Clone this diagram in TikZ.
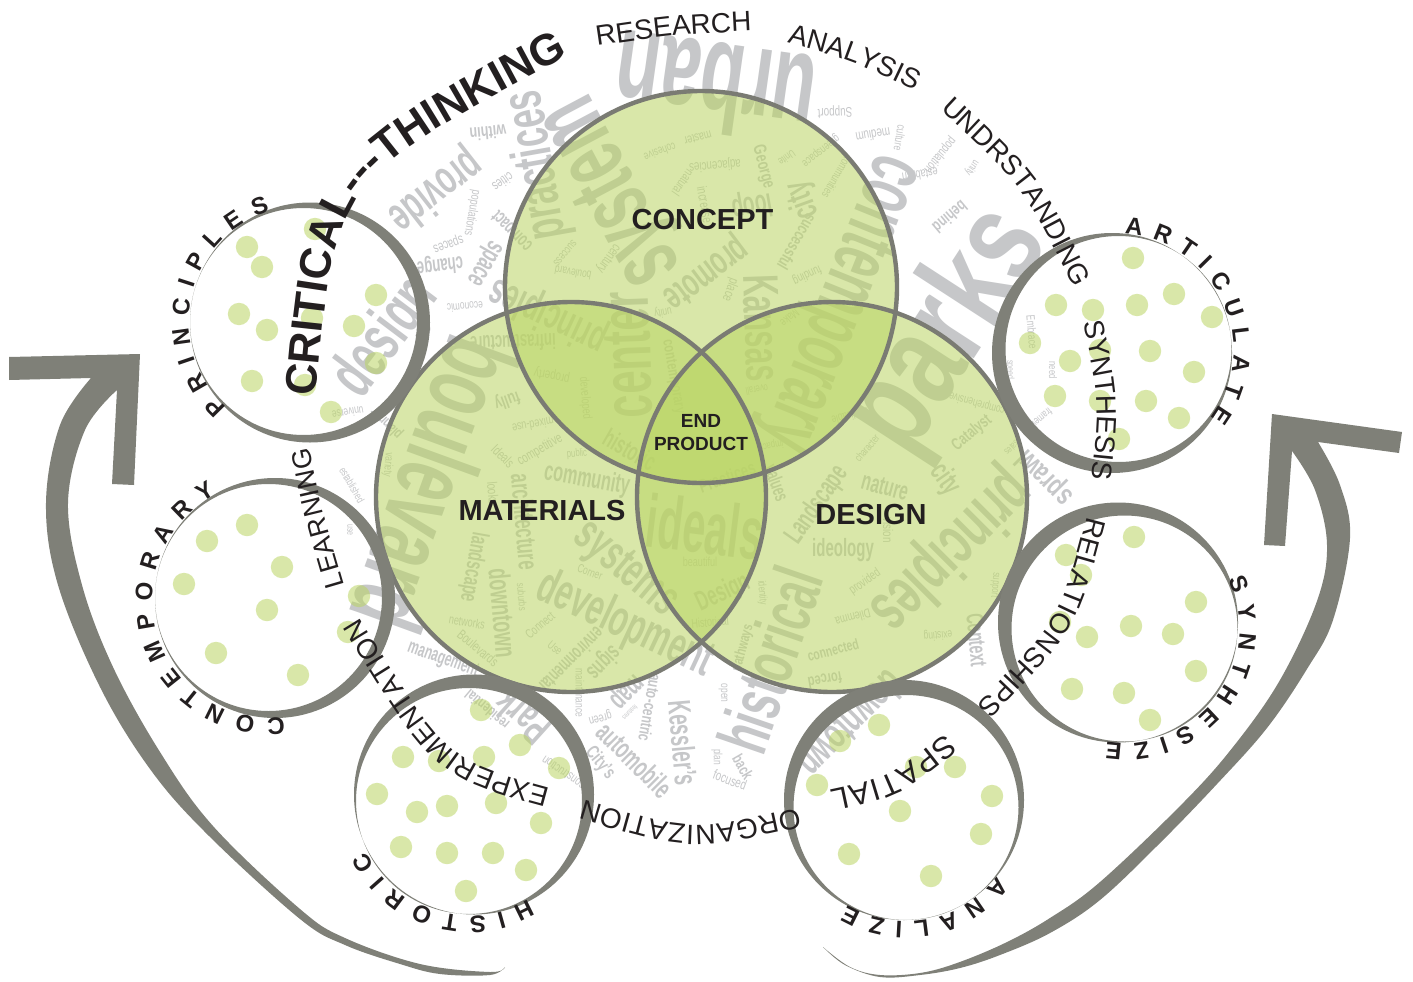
\documentclass[tikz,border=0pt]{standalone}
\usepackage{fontspec}
\usepackage{graphicx}
\setmainfont{Liberation Sans}
\usetikzlibrary{decorations.text}
\definecolor{ink}{HTML}{231F20}
\definecolor{cloud}{HTML}{C6C7C9}
\definecolor{vennfill}{RGB}{186,213,99}
\definecolor{rim}{HTML}{7F8078}
\newcounter{cwn}
\newcommand{\cw}[6][.6]{\stepcounter{cwn}%
  \ifdim#5pt<20pt\def\xsc{.7}\else\def\xsc{#1}\fi
  \node[cloudword,rotate=#4] (cw\arabic{cwn}) at (#2,#3) {\fontsize{#5}{#5}\ifdim#5pt<15pt\else\bfseries\fi\selectfont\scalebox{\xsc}[1]{#6}};}
\newcommand{\ctext}[5]{\path[decorate,decoration={text along path,text align={fit to path},text={|\color{ink}#1|#5}}] (#2) .. controls (#3) .. (#4);}
\newcommand{\rtext}[6]{\path[decorate,decoration={text along path,text align={fit to path},text={|\color{ink}\fontsize{24}{24}\bfseries\selectfont|#6}}] plot[domain=#4:#5,samples=90] ({#1+#3*cos(\x)},{#2-#3*sin(\x)});}
\newcommand{\crescent}[6]{\fill[rim,even odd rule] (#1,#2) circle[radius=#3] (#4,#5) circle[radius=#6];}
\tikzset{
  cloudword/.style={text=cloud,inner sep=0pt,outer sep=0pt},
  gdot/.style={fill=vennfill,fill opacity=.55},
  vennline/.style={draw=rim!96!black,line width=4.4pt},
  vennfillst/.style={fill=vennfill,fill opacity=.55},
  title/.style={text=ink,inner sep=0pt,font=\fontsize{29}{29}\bfseries\selectfont},
  arrowfill/.style={fill=rim}
}
\begin{document}
\begin{tikzpicture}[x=1pt,y=-1pt]
\useasboundingbox (0,0) rectangle (1413,982);
\fill[white] (0,0) rectangle (1413,982);
% ---- word cloud
\cw[.58]{715}{88}{172}{125}{urban}
\cw[.58]{615}{190}{118}{100}{system}
\cw{538}{165}{100}{57}{practices}
\cw{488}{133}{185}{18}{within}
\cw{435}{190}{218}{48}{provide}
\cw{503}{182}{215}{14}{cities}
\cw{472}{213}{-100}{13}{populations}
\cw{448}{243}{200}{14}{spaces}
\cw{440}{265}{186}{22}{change}
\cw{483}{262}{240}{28}{space}
\cw{513}{230}{135}{20}{compact}
\cw{548}{315}{155}{44}{principles}
\cw{698}{138}{195}{13}{master}
\cw{660}{152}{200}{12}{cohesive}
\cw{715}{165}{185}{14}{adjacencies}
\cw{683}{183}{235}{13}{natural}
\cw{705}{205}{-80}{14}{increase}
\cw{628}{355}{92}{70}{center}
\cw{705}{272}{217}{40}{promote}
\cw{752}{205}{190}{32}{loop}
\cw{763}{167}{-75}{18}{George}
\cw{787}{158}{215}{11}{Unite}
\cw{803}{200}{110}{36}{city}
\cw{820}{150}{218}{12}{greenspace}
\cw{835}{112}{182}{14}{Support}
\cw{873}{135}{190}{14}{medium}
\cw{900}{138}{-100}{12}{culture}
\cw{940}{155}{230}{13}{population}
\cw{972}{168}{235}{11}{unity}
\cw{920}{175}{188}{13}{establish}
\cw{950}{217}{220}{17}{behind}
\cw{837}{177}{240}{12}{communities}
\cw{797}{242}{240}{17}{successful}
\cw{807}{275}{205}{13}{funding}
\cw{730}{290}{-110}{14}{place}
\cw[.55]{838}{302}{-112}{85}{contemporary}
\cw{762}{328}{-88}{50}{Kansas}
\cw{757}{390}{190}{11}{overall}
\cw{850}{415}{195}{12}{applicable}
\cw{630}{450}{-30}{26}{historic}
\cw{673}{377}{-80}{16}{contemporary}
\cw{585}{398}{-85}{13}{developed}
\cw{552}{375}{170}{14}{property}
\cw{513}{343}{182}{22}{infrastructure}
\cw{507}{400}{200}{18}{fully}
\cw{533}{425}{190}{13}{mixed-use}
\cw{540}{450}{30}{14}{competitive}
\cw{577}{454}{5}{11}{public}
\cw{503}{456}{-45}{14}{Ideals}
\cw{587}{480}{-10}{27}{community}
\cw{493}{493}{-85}{14}{looks}
\cw{525}{522}{-85}{28}{architecture}
\cw{473}{567}{-100}{24}{landscape}
\cw{503}{613}{-85}{30}{downtown}
\cw{625}{570}{-40}{50}{systems}
\cw{625}{625}{-25}{51}{development}
\cw[.6]{435}{485}{250}{105}{boulevard}
\cw{387}{338}{53}{67}{design}
\cw{348}{413}{190}{12}{universe}
\cw[.72]{950}{332}{57}{135}{parks}
\cw{950}{550}{225}{70}{principles}
\cw{945}{480}{-55}{30}{city}
\cw{972}{433}{40}{17}{Catalyst}
\cw{977}{403}{165}{12}{comprehensive}
\cw{867}{448}{50}{11}{character}
\cw{885}{487}{-15}{26}{nature}
\cw{817}{505}{55}{28}{Landscape}
\cw{843}{550}{0}{25}{ideology}
\cw{888}{530}{-90}{14}{vision}
\cw{865}{582}{35}{13}{provided}
\cw{770}{660}{71}{71}{historical}
\cw{743}{648}{75}{15}{pathways}
\cw{833}{650}{15}{15}{connected}
\cw{853}{618}{195}{13}{Dilemma}
\cw{762}{593}{-85}{11}{identity}
\cw{825}{680}{190}{16}{forced}
\cw{938}{635}{185}{12}{existing}
\cw{977}{640}{-85}{24}{Context}
\cw{995}{585}{-95}{11}{support}
\cw{1037}{422}{-140}{11}{framework}
\cw[.7]{1045}{477}{135}{30}{sprawl}
\cw{1012}{448}{225}{10}{sales}
\cw{1053}{370}{-90}{11}{need}
\cw{1032}{332}{-85}{12}{Embrace}
\cw{1010}{370}{-90}{10}{speed}
\cw{777}{483}{-70}{20}{values}
\cw{772}{445}{190}{11}{impact}
\cw{727}{477}{20}{19}{Practices}
\cw[.55]{705}{527}{-7}{75}{ideals}
\cw{700}{562}{0}{13}{beautiful}
\cw{723}{593}{25}{28}{Design}
\cw{710}{622}{5}{13}{Historical}
\cw{540}{625}{40}{13}{Connect}
\cw{590}{572}{-20}{12}{Corner}
\cw{555}{648}{-40}{12}{Use}
\cw{478}{648}{-40}{14}{Boulevards}
\cw{467}{622}{-10}{13}{networks}
\cw{522}{597}{-85}{11}{suburbs}
\cw{572}{660}{225}{20}{environmental}
\cw{603}{662}{225}{24}{signs}
\cw{522}{717}{138}{45}{Park}
\cw{625}{690}{225}{30}{map}
\cw{580}{693}{-90}{12}{maintenance}
\cw{630}{713}{225}{7}{features}
\cw{600}{717}{195}{13}{green}
\cw{650}{708}{-100}{17}{auto-centric}
\cw{635}{760}{-45}{29}{automobile}
\cw{600}{763}{-50}{19}{City's}
\cw{683}{743}{-85}{32}{Kessler's}
\cw{723}{693}{-90}{12}{open}
\cw{717}{757}{-90}{12}{plan}
\cw{743}{767}{-60}{16}{back}
\cw{730}{780}{-20}{14}{focused}
\cw{443}{660}{-20}{20}{management}
\cw{487}{710}{140}{15}{residential}
\cw{563}{773}{145}{13}{construction}
\cw{852}{725}{225}{44}{downtown}
\cw{388}{465}{-95}{12}{variety}
\cw{387}{423}{135}{15}{planner}
\cw{352}{485}{-60}{11}{established}
\cw{350}{530}{-90}{10}{use}
\cw{465}{307}{185}{12}{economic}
\cw{565}{253}{230}{12}{success}
\cw{573}{273}{170}{12}{boulevard}
\cw{608}{258}{-125}{14}{century}
\cw{663}{312}{190}{12}{unity}
\cw{790}{318}{220}{12}{Make}
% ---- Venn circles
\fill[vennfillst] (701,287) circle[radius=196];
\fill[vennfillst] (571,497) circle[radius=195];
\fill[vennfillst] (832,497) circle[radius=195];
\draw[vennline] (701,287) circle[radius=196];
\draw[vennline] (571,497) circle[radius=195];
\draw[vennline] (832,497) circle[radius=195];
% ---- dots
\foreach \p in {(315,229),(247,247),(262,267),(239,314),(267,330),(312,318),(376,295),(354,326),(376,363),(252,381),(305,385),(331,412),
  (247,525),(207,541),(282,567),(184,584),(267,610),(359,596),(348,632),(216,653),(298,675),
  (1133,258),(1056,305),(1093,310),(1137,305),(1174,294),(1212,317),(1030,343),(1070,361),(1100,350),(1150,351),(1194,372),(1055,396),(1100,401),(1146,401),(1179,418),(1119,439),
  (1134,537),(1066,555),(1081,575),(1196,602),(1060,622),(1087,637),(1131,626),(1173,634),(1196,671),(1072,689),(1124,693),(1150,720),
  (481,710),(520,745),(559,768),(403,757),(439,761),(484,757),(377,794),(417,812),(447,806),(496,803),(541,823),(401,847),(447,853),(493,853),(526,870),(466,891),
  (879,725),(840,741),(916,767),(955,767),(817,785),(992,796),(900,811),(981,834),(849,854),(931,876)}
  \fill[gdot] \p circle[radius=11.2];
% ---- crescents
\crescent{310}{322.5}{120}{303.5}{321.5}{113.5}
\crescent{275}{598}{120}{268.5}{597.5}{113.5}
\crescent{1112}{353}{120}{1118.5}{349}{113}
\crescent{1118}{622.5}{120}{1124.5}{628.5}{113}
\crescent{474}{794.5}{120}{469}{801}{113}
\crescent{904}{800}{120}{906}{807.5}{112.5}
% ---- big arrows
\fill[arrowfill] (9,357) -- (140,354) -- (134,485) -- (112,484) -- (117,390)
  -- plot[smooth,tension=.6] coordinates {(117,390) (85,430) (68,503) (82,585) (113,667) (160,752) (213,826) (300,909) (345,938) (420,964) (490,972) (505,967)}
  -- plot[smooth,tension=.6] coordinates {(505,967) (490,975) (440,974) (400,964) (345,945) (300,919) (207,834) (150,769) (100,687) (58,585) (46,503) (60,425) (91,378)}
  -- (9,380) -- cycle;
\fill[arrowfill] (1272,414) -- (1402,432) -- (1399,453) -- (1318,442)
  -- plot[smooth,tension=.6] coordinates {(1318,442) (1340,485) (1350,538) (1333,620) (1307,669) (1267,728) (1217,784) (1160,843) (1100,900) (1050,933) (1000,955) (960,968) (920,975) (880,977) (845,965) (823,947)}
  -- plot[smooth,tension=.6] coordinates {(823,947) (850,967) (880,975) (920,973) (957,963) (1005,943) (1050,918) (1100,882) (1183,803) (1233,747) (1280,680) (1317,601) (1327,545) (1315,490) (1292,451)}
  -- (1285,546) -- (1264,545) -- cycle;
% ---- outer curved labels
\def\wordfont{\fontsize{28}{28}\selectfont}
\ctext{\fontsize{44}{44}\bfseries\selectfont}{316,397}{335,180}{568,56}{CRITICAL---THINKING}
\ctext{\wordfont}{597,46}{672,35}{750,31}{RESEARCH}
\ctext{\wordfont}{787,43}{850,60}{909,88}{ANALYSIS}
\ctext{\wordfont}{940,109}{1023,186}{1074,288}{UNDRSTANDING}
\ctext{\wordfont}{1083,322}{1100,400}{1092,478}{SYNTHESIS}
\ctext{\wordfont}{1087,516}{1060,619}{980,702}{RELATIONSHIPS}
\ctext{\fontsize{31}{31}\selectfont}{945,733}{891,777}{830,790}{SPATIAL}
\ctext{\wordfont}{798,808}{691,832}{584,800}{ORGANIZATION}
\ctext{\wordfont}{550,788}{447,760}{361,620}{EXPERIMENTATION}
\ctext{\fontsize{27}{27}\selectfont}{344,585}{322,510}{309,447}{LEARNING}
% ---- ring labels
\rtext{303.5}{321.5}{115}{228}{107}{PRINCIPLES}
\rtext{270}{600}{118}{277}{117}{CONTEMPORARY}
\rtext{1118.5}{349}{115}{87}{-37}{ARTICULATE}
\rtext{1124.5}{628.5}{115}{25}{-99}{SYNTHESIZE}
\rtext{469}{801}{115}{-59}{-154}{HISTORIC}
\rtext{906}{807.5}{114}{-37}{-121}{ANALIZE}
% ---- titles
\node[title] (concept) at (702.5,220) {CONCEPT};
\node[title] (materials) at (542,510.5) {MATERIALS};
\node[title] (design) at (871,514.5) {DESIGN};
\node[title,font=\fontsize{19}{23}\bfseries\selectfont,align=center] (endprod) at (701,433) {END\\PRODUCT};
\end{tikzpicture}
\end{document}
